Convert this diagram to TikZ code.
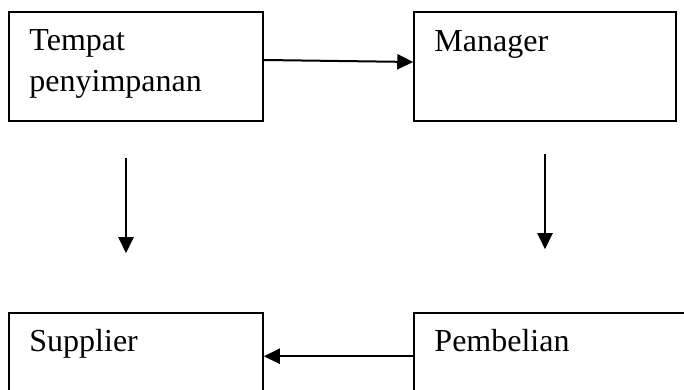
\documentclass[tikz,border=0pt]{standalone}
\usepackage{fontspec}
\setmainfont{Liberation Serif}
\usetikzlibrary{arrows.meta}

\begin{document}
\begin{tikzpicture}[x=1pt,y=1pt,
  box/.style={draw, line width=1.5pt, inner sep=0pt},
  lbl/.style={anchor=base west, inner sep=0pt, text width=230pt, align=left,
    font=\fontsize{32}{41}\selectfont},
  arr/.style={line width=2pt, -{Triangle[length=16pt,width=15pt]}}]
\useasboundingbox (0,0) rectangle (684,390);
\clip (0,0) rectangle (684,390);
% boxes
\node [box, minimum width=254pt, minimum height=109pt] (tempat) at (136,323.5) {};
\node [box, minimum width=262pt, minimum height=109pt] (manager) at (545,323.5) {};
\node [box, minimum width=254pt, minimum height=109pt] (supplier) at (136,22.5) {};
\node [box, minimum width=280pt, minimum height=109pt] (pembelian) at (554,22.5) {};
% texts
\node [lbl] (tempatTxt) at ([shift={(21,-39)}]tempat.north west) {Tempat\\penyimpanan};
\node [lbl] (managerTxt) at ([shift={(21,-40)}]manager.north west) {Manager};
\node [lbl] (supplierTxt) at ([shift={(21,-39.5)}]supplier.north west) {Supplier};
\node [lbl] (pembelianTxt) at ([shift={(21,-39.5)}]pembelian.north west) {Pembelian};
% free ends of the vertical arrows
\coordinate (leftTop) at ([shift={(-10,-36)}]tempat.south);
\coordinate (leftEnd) at ([shift={(-10,59)}]supplier.north);
\coordinate (rightTop) at ([yshift=-32pt]manager.south);
\coordinate (rightEnd) at ([yshift=63pt]pembelian.north -| manager.south);
% arrows
\draw [arr] ([yshift=6.5pt]tempat.east) -- ([yshift=4.5pt]manager.west);
\draw [arr] (leftTop) -- (leftEnd);
\draw [arr] (rightTop) -- (rightEnd);
\draw [arr] ([yshift=-44pt]pembelian.north west) -- ([yshift=-44pt]supplier.north east);
\end{tikzpicture}
\end{document}
